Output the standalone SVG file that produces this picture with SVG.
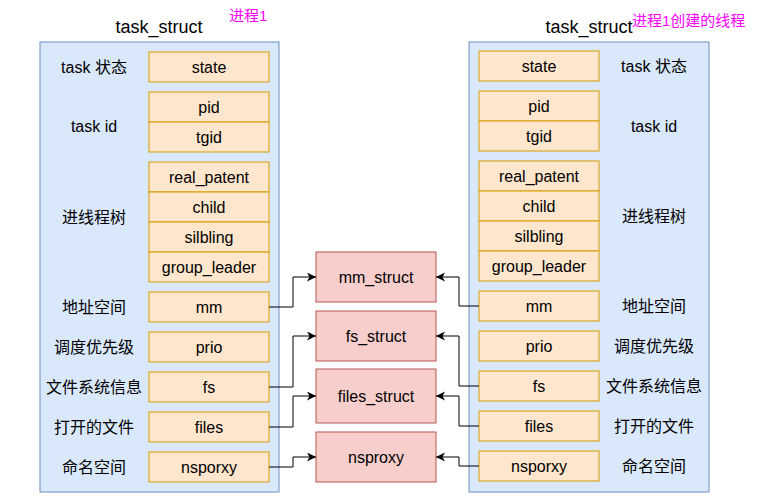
<svg xmlns="http://www.w3.org/2000/svg" width="757" height="502" viewBox="0 0 757 502">
<defs>
<style>
text{font-family:"Liberation Sans","Noto Sans CJK SC",sans-serif;font-size:16px;fill:#000;text-anchor:middle}
.cont{fill:#dae8fc;stroke:#6c8ebf;stroke-width:1}
.fld{fill:#ffe6cc;stroke:#d79b00;stroke-width:1}
.mid{fill:#f8cecc;stroke:#b85450;stroke-width:1}
.title{font-size:18px}
.note{font-size:15px;fill:#ff00ff;text-anchor:start}
.conn path{fill:none;stroke:#000;stroke-width:1}
</style>
<marker id="arr" markerUnits="userSpaceOnUse" markerWidth="10" markerHeight="10" refX="9" refY="4.5" orient="auto">
<path d="M0,0 L9,4.5 L0,9 L2.5,4.5 Z" fill="#000"/>
</marker>
</defs>
<rect width="757" height="502" fill="#fff"/>

<g id="left-process">
<rect class="cont" x="40" y="42" width="239" height="450"/>
<text class="title" x="159" y="33">task_struct</text>
<text class="note" x="229" y="21">进程1</text>
<text x="94" y="72.5">task 状态</text>
<text x="94" y="132">task id</text>
<text x="94" y="222.5">进线程树</text>
<text x="94" y="312.5">地址空间</text>
<text x="94" y="352.5">调度优先级</text>
<text x="94" y="392.5">文件系统信息</text>
<text x="94" y="432.5">打开的文件</text>
<text x="94" y="472.5">命名空间</text>
<rect class="fld" x="149" y="52" width="120" height="30"/><text x="209" y="72.5">state</text>
<rect class="fld" x="149" y="92" width="120" height="30"/><text x="209" y="112.5">pid</text>
<rect class="fld" x="149" y="122" width="120" height="30"/><text x="209" y="142.5">tgid</text>
<rect class="fld" x="149" y="162" width="120" height="30"/><text x="209" y="182.5">real_patent</text>
<rect class="fld" x="149" y="192" width="120" height="30"/><text x="209" y="212.5">child</text>
<rect class="fld" x="149" y="222" width="120" height="30"/><text x="209" y="242.5">silbling</text>
<rect class="fld" x="149" y="252" width="120" height="30"/><text x="209" y="272.5">group_leader</text>
<rect class="fld" x="149" y="292" width="120" height="30"/><text x="209" y="312.5">mm</text>
<rect class="fld" x="149" y="332" width="120" height="30"/><text x="209" y="352.5">prio</text>
<rect class="fld" x="149" y="372" width="120" height="30"/><text x="209" y="392.5">fs</text>
<rect class="fld" x="149" y="412" width="120" height="30"/><text x="209" y="432.5">files</text>
<rect class="fld" x="149" y="452" width="120" height="30"/><text x="209" y="472.5">nsporxy</text>
</g>

<g id="right-thread">
<rect class="cont" x="469" y="42" width="240" height="450"/>
<text class="title" x="589" y="33">task_struct</text>
<text class="note" x="632" y="26">进程1创建的线程</text>
<text x="654" y="71.5">task 状态</text>
<text x="654" y="131.5">task id</text>
<text x="654" y="221.5">进线程树</text>
<text x="654" y="311.5">地址空间</text>
<text x="654" y="351.5">调度优先级</text>
<text x="654" y="391.5">文件系统信息</text>
<text x="654" y="431.5">打开的文件</text>
<text x="654" y="471.5">命名空间</text>
<rect class="fld" x="479" y="51" width="120" height="30"/><text x="539" y="71.5">state</text>
<rect class="fld" x="479" y="91" width="120" height="30"/><text x="539" y="111.5">pid</text>
<rect class="fld" x="479" y="121" width="120" height="30"/><text x="539" y="141.5">tgid</text>
<rect class="fld" x="479" y="161" width="120" height="30"/><text x="539" y="181.5">real_patent</text>
<rect class="fld" x="479" y="191" width="120" height="30"/><text x="539" y="211.5">child</text>
<rect class="fld" x="479" y="221" width="120" height="30"/><text x="539" y="241.5">silbling</text>
<rect class="fld" x="479" y="251" width="120" height="30"/><text x="539" y="271.5">group_leader</text>
<rect class="fld" x="479" y="291" width="120" height="30"/><text x="539" y="311.5">mm</text>
<rect class="fld" x="479" y="331" width="120" height="30"/><text x="539" y="351.5">prio</text>
<rect class="fld" x="479" y="371" width="120" height="30"/><text x="539" y="391.5">fs</text>
<rect class="fld" x="479" y="411" width="120" height="30"/><text x="539" y="431.5">files</text>
<rect class="fld" x="479" y="451" width="120" height="30"/><text x="539" y="471.5">nsporxy</text>
</g>

<g id="mm_struct"><rect class="mid" x="316" y="252" width="120" height="50"/><text x="376" y="282.5">mm_struct</text></g>
<g id="fs_struct"><rect class="mid" x="316" y="311" width="120" height="50"/><text x="376" y="341.5">fs_struct</text></g>
<g id="files_struct"><rect class="mid" x="316" y="369" width="120" height="54"/><text x="376" y="401.5">files_struct</text></g>
<g id="nsproxy"><rect class="mid" x="316" y="432" width="120" height="50"/><text x="376" y="462.5">nsproxy</text></g>

<g class="conn" id="connectors">
<path d="M269,307 H293 V277 H316" marker-end="url(#arr)"/>
<path d="M269,387 H293 V336 H316" marker-end="url(#arr)"/>
<path d="M269,427 H293 V396 H316" marker-end="url(#arr)"/>
<path d="M269,467 H293 V457 H316" marker-end="url(#arr)"/>
<path d="M479,306 H459 V277 H436" marker-end="url(#arr)"/>
<path d="M479,386 H459 V336 H436" marker-end="url(#arr)"/>
<path d="M479,426 H459 V396 H436" marker-end="url(#arr)"/>
<path d="M479,466 H459 V457 H436" marker-end="url(#arr)"/>
</g>
</svg>
